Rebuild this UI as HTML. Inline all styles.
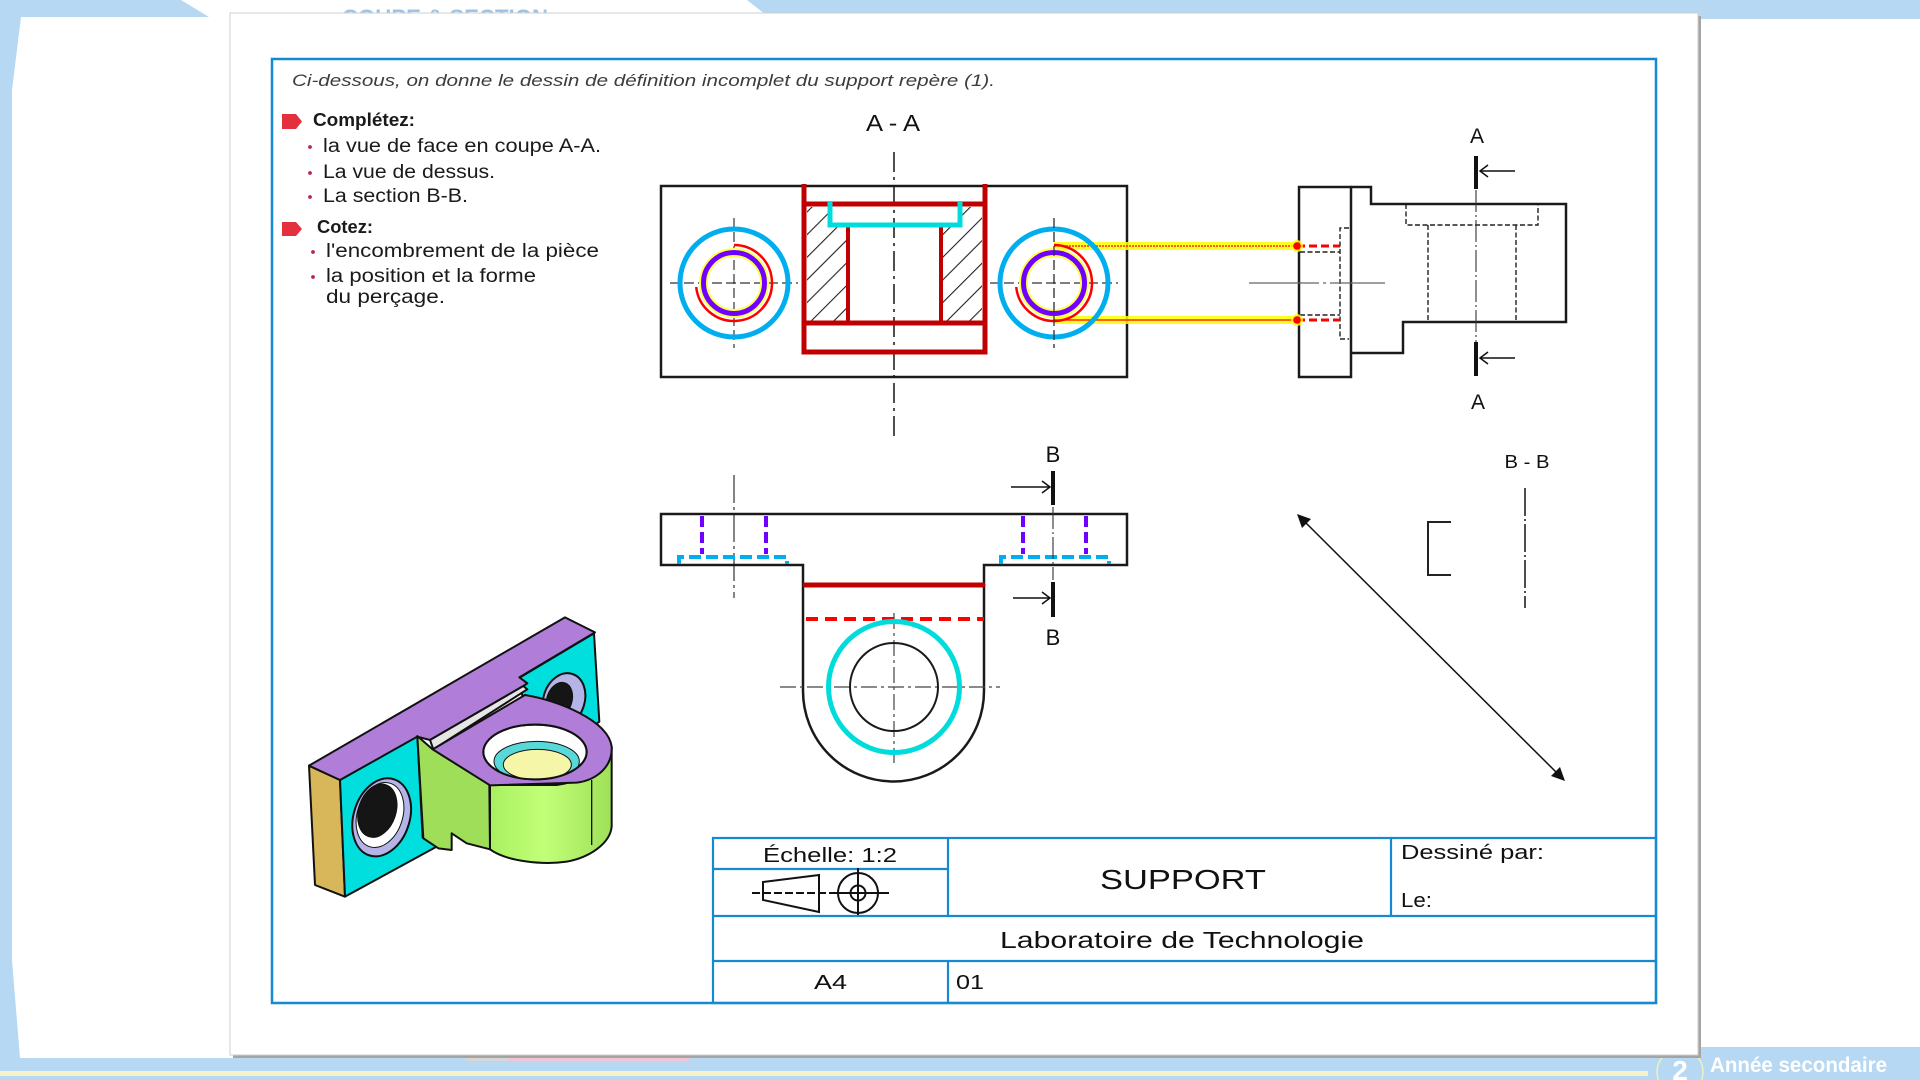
<!DOCTYPE html>
<html><head><meta charset="utf-8"><title>Support</title>
<style>
html,body{margin:0;padding:0;background:#fff;}
svg{display:block;}
text{font-family:"Liberation Sans",sans-serif;}
</style></head>
<body>
<svg width="1920" height="1080" viewBox="0 0 1920 1080" xmlns="http://www.w3.org/2000/svg">
<defs>
  <pattern id="hatch" patternUnits="userSpaceOnUse" width="16" height="16" patternTransform="rotate(45)">
    <line x1="0" y1="0" x2="0" y2="16" stroke="#222" stroke-width="2.2"/>
  </pattern>
  <clipPath id="bossHole"><ellipse cx="735" cy="456" rx="155" ry="82"/></clipPath>
  <linearGradient id="cyl" x1="0" y1="0" x2="1" y2="0">
    <stop offset="0" stop-color="#a8f060"/>
    <stop offset="0.45" stop-color="#c2ff78"/>
    <stop offset="1" stop-color="#9ee058"/>
  </linearGradient>
</defs>

<!-- background -->
<rect x="0" y="0" width="1920" height="1080" fill="#ffffff"/>
<polygon points="0,0 181,0 209,17 21,17 12,90 12,960 20,1058 0,1058" fill="#b6d8f2"/>
<polygon points="747,0 1920,0 1920,19 771,19" fill="#b6d8f2"/>
<rect x="0" y="1058" width="1920" height="22" fill="#b6d8f2"/>
<rect x="1657" y="1047" width="263" height="33" fill="#b6d8f2"/>
<rect x="0" y="1071" width="1648" height="5" fill="#f7f3c8"/>
<rect x="465" y="1057" width="45" height="4" fill="#d6d6d6"/>
<rect x="510" y="1057" width="180" height="4" fill="#f0c4d4"/>
<text x="342" y="25" font-size="22" font-weight="bold" fill="#9cc4e8" textLength="206" lengthAdjust="spacingAndGlyphs">COUPE &amp; SECTION</text>

<!-- bottom right badge -->
<circle cx="1680" cy="1072" r="23" fill="none" stroke="#f0eec0" stroke-width="1.5"/>
<text x="1680" y="1080" font-size="28" font-weight="bold" fill="#ffffff" text-anchor="middle">2</text>
<text x="1710" y="1072" font-size="21" font-weight="bold" fill="#ffffff" textLength="177" lengthAdjust="spacingAndGlyphs">Année secondaire</text>

<!-- page -->
<rect x="233" y="16" width="1468" height="1042" fill="#a4a4a4"/>
<rect x="230" y="13" width="1468" height="1042" fill="#ffffff" stroke="#cfcfcf" stroke-width="1"/>

<!-- blue frame -->
<rect x="272" y="59" width="1384" height="944" fill="none" stroke="#1589d1" stroke-width="2.5"/>

<!-- header text -->
<text x="292" y="86" font-size="17" font-style="italic" fill="#3c3c3c" textLength="703" lengthAdjust="spacingAndGlyphs">Ci-dessous, on donne  le dessin de définition incomplet du support   repère (1).</text>

<!-- instructions -->
<path d="M282,114 H296 L302,121.5 L296,129 H282 Z" fill="#e3303c"/>
<text x="313" y="126" font-size="18" font-weight="bold" fill="#1a1a1a" textLength="102" lengthAdjust="spacingAndGlyphs">Complétez:</text>
<circle cx="310" cy="147" r="1.9" fill="#c02060"/>
<text x="323" y="152" font-size="19" fill="#1a1a1a" textLength="278" lengthAdjust="spacingAndGlyphs">la vue de face en coupe A-A.</text>
<circle cx="310" cy="173" r="1.9" fill="#c02060"/>
<text x="323" y="178" font-size="19" fill="#1a1a1a" textLength="172" lengthAdjust="spacingAndGlyphs">La vue de dessus.</text>
<circle cx="310" cy="197" r="1.9" fill="#c02060"/>
<text x="323" y="202" font-size="19" fill="#1a1a1a" textLength="145" lengthAdjust="spacingAndGlyphs">La section B-B.</text>
<path d="M282,222 H296 L302,229 L296,236 H282 Z" fill="#e3303c"/>
<text x="317" y="233" font-size="18" font-weight="bold" fill="#1a1a1a" textLength="56" lengthAdjust="spacingAndGlyphs">Cotez:</text>
<circle cx="313" cy="252" r="1.9" fill="#c02060"/>
<text x="326" y="257" font-size="19" fill="#1a1a1a" textLength="273" lengthAdjust="spacingAndGlyphs">l'encombrement de la pièce</text>
<circle cx="313" cy="277" r="1.9" fill="#c02060"/>
<text x="326" y="282" font-size="19" fill="#1a1a1a" textLength="210" lengthAdjust="spacingAndGlyphs">la position et la forme</text>
<text x="326" y="303" font-size="19" fill="#1a1a1a" textLength="119" lengthAdjust="spacingAndGlyphs">du perçage.</text>

<!-- ========== FRONT VIEW (A-A) ========== -->
<text x="893" y="131" font-size="23" fill="#111" text-anchor="middle" textLength="54" lengthAdjust="spacingAndGlyphs">A - A</text>
<line x1="894" y1="152" x2="894" y2="440" stroke="#222" stroke-width="1.6" stroke-dasharray="20 5 3 5"/>
<rect x="661" y="186" width="466" height="191" fill="none" stroke="#1a1a1a" stroke-width="2.5"/>

<!-- hatching -->
<polygon points="807,207 830,207 830,226 848,226 848,321 807,321" fill="url(#hatch)"/>
<polygon points="941,226 958,226 958,207 982,207 982,321 941,321" fill="url(#hatch)"/>

<!-- red section outline -->
<g stroke="#c00000" fill="none">
  <line x1="804" y1="184" x2="804" y2="354" stroke-width="5"/>
  <line x1="985" y1="184" x2="985" y2="354" stroke-width="5"/>
  <line x1="804" y1="204" x2="985" y2="204" stroke-width="5"/>
  <line x1="804" y1="323" x2="985" y2="323" stroke-width="5"/>
  <line x1="801.5" y1="352" x2="987.5" y2="352" stroke-width="5"/>
  <line x1="848" y1="226" x2="848" y2="323" stroke-width="4"/>
  <line x1="941" y1="226" x2="941" y2="323" stroke-width="4"/>
</g>
<path d="M830,202 V225 H960 V202" fill="none" stroke="#00dcdc" stroke-width="5"/>

<!-- left hole circles -->
<g stroke-dasharray="10 4" stroke="#333" stroke-width="1.2">
  <line x1="670" y1="283" x2="798" y2="283"/>
  <line x1="734" y1="218" x2="734" y2="348"/>
  <line x1="990" y1="283" x2="1118" y2="283"/>
  <line x1="1054" y1="218" x2="1054" y2="348"/>
</g>
<circle cx="734" cy="283" r="54" fill="none" stroke="#00aeef" stroke-width="5"/>
<circle cx="734" cy="283" r="30.5" fill="none" stroke="#ffff50" stroke-width="9"/>
<circle cx="734" cy="283" r="30.5" fill="none" stroke="#7000ff" stroke-width="5"/>
<path d="M734,245 A38,38 0 1 1 696.2,287" fill="none" stroke="#ff0000" stroke-width="2.5"/>

<!-- right hole circles -->
<line x1="1054" y1="246" x2="1297" y2="246" stroke="#ffff00" stroke-width="8" opacity="0.85"/>
<line x1="1054" y1="320" x2="1297" y2="320" stroke="#ffff00" stroke-width="8" opacity="0.85"/>
<line x1="1054" y1="246" x2="1297" y2="246" stroke="#ff0000" stroke-width="1.2" stroke-dasharray="2 1"/>
<line x1="1054" y1="320" x2="1297" y2="320" stroke="#ff0000" stroke-width="1.2"/>
<circle cx="1054" cy="283" r="54" fill="none" stroke="#00aeef" stroke-width="5"/>
<circle cx="1054" cy="283" r="30.5" fill="none" stroke="#ffff50" stroke-width="9"/>
<circle cx="1054" cy="283" r="30.5" fill="none" stroke="#7000ff" stroke-width="5"/>
<path d="M1054,245 A38,38 0 1 1 1016.2,287" fill="none" stroke="#ff0000" stroke-width="2.5"/>
<line x1="1054" y1="218" x2="1054" y2="348" stroke="#333" stroke-width="1.2" stroke-dasharray="10 4"/>

<!-- ========== SIDE VIEW ========== -->
<rect x="1299" y="187" width="52" height="190" fill="none" stroke="#1a1a1a" stroke-width="2.5"/>
<path d="M1351,187 H1371 V204 H1566 V322 H1403 V353 H1351" fill="none" stroke="#1a1a1a" stroke-width="2.5"/>
<g fill="none" stroke="#222" stroke-width="1.4" stroke-dasharray="5 2.5">
  <path d="M1406,204 V225 H1538 V204"/>
  <line x1="1428" y1="225" x2="1428" y2="322"/>
  <line x1="1516" y1="225" x2="1516" y2="322"/>
  <path d="M1349,228 H1340 V339 H1349"/>
  <line x1="1300" y1="252" x2="1340" y2="252"/>
  <line x1="1300" y1="315" x2="1340" y2="315"/>
</g>
<line x1="1297" y1="246" x2="1340" y2="246" stroke="#ff0000" stroke-width="3" stroke-dasharray="8 4"/>
<line x1="1297" y1="320" x2="1340" y2="320" stroke="#ff0000" stroke-width="3" stroke-dasharray="8 4"/>
<circle cx="1297" cy="246" r="6" fill="#ffff00" opacity="0.8"/>
<circle cx="1297" cy="320" r="6" fill="#ffff00" opacity="0.8"/>
<circle cx="1297" cy="246" r="3.8" fill="#ff0000"/>
<circle cx="1297" cy="320" r="3.8" fill="#ff0000"/>
<line x1="1249" y1="283" x2="1385" y2="283" stroke="#666" stroke-width="1.2" stroke-dasharray="70 4 3 4"/>
<line x1="1476" y1="190" x2="1476" y2="342" stroke="#333" stroke-width="1.1" stroke-dasharray="22 3 2 3"/>
<!-- A marks -->
<line x1="1476" y1="156" x2="1476" y2="189" stroke="#111" stroke-width="4"/>
<line x1="1476" y1="342" x2="1476" y2="376" stroke="#111" stroke-width="4"/>
<line x1="1480" y1="171" x2="1515" y2="171" stroke="#111" stroke-width="1.5"/>
<path d="M1488,165 L1480,171 L1488,177" fill="none" stroke="#111" stroke-width="1.5"/>
<line x1="1480" y1="358" x2="1515" y2="358" stroke="#111" stroke-width="1.5"/>
<path d="M1488,352 L1480,358 L1488,364" fill="none" stroke="#111" stroke-width="1.5"/>
<text x="1477" y="143" font-size="21" fill="#111" text-anchor="middle">A</text>
<text x="1478" y="409" font-size="21" fill="#111" text-anchor="middle">A</text>

<!-- ========== TOP VIEW ========== -->
<line x1="734" y1="475" x2="734" y2="598" stroke="#333" stroke-width="1.2" stroke-dasharray="28 4 3 4"/>
<path d="M661,514 H1127 V565 H984 V691 A90.5,90.5 0 0 1 803,691 V565 H661 Z" fill="none" stroke="#1a1a1a" stroke-width="2.5"/>
<g stroke="#7000ff" stroke-width="4" stroke-dasharray="11 5">
  <line x1="702" y1="516" x2="702" y2="554"/>
  <line x1="766" y1="516" x2="766" y2="554"/>
  <line x1="1023" y1="516" x2="1023" y2="554"/>
  <line x1="1086" y1="516" x2="1086" y2="554"/>
</g>
<g fill="none" stroke="#00aeef" stroke-width="4">
  <path d="M679,564 V557 H787 V564" stroke-dasharray="12 5"/>
  <path d="M1001,564 V557 H1109 V564" stroke-dasharray="12 5"/>
</g>
<line x1="1053" y1="507" x2="1053" y2="580" stroke="#333" stroke-width="1.1" stroke-dasharray="22 3 2 3"/>
<line x1="805" y1="585" x2="983" y2="585" stroke="#c00000" stroke-width="5" stroke-linecap="round"/>
<line x1="806" y1="619" x2="984" y2="619" stroke="#ff0000" stroke-width="4" stroke-dasharray="12 7"/>
<g stroke="#444" stroke-width="1.2" stroke-dasharray="16 4 3 4">
  <line x1="780" y1="687" x2="1000" y2="687"/>
  <line x1="894" y1="613" x2="894" y2="763"/>
</g>
<circle cx="894" cy="687" r="44" fill="none" stroke="#1a1a1a" stroke-width="2"/>
<circle cx="894" cy="687" r="65.5" fill="none" stroke="#00dcdc" stroke-width="5"/>
<!-- B marks -->
<line x1="1053" y1="471" x2="1053" y2="505" stroke="#111" stroke-width="4"/>
<line x1="1053" y1="582" x2="1053" y2="617" stroke="#111" stroke-width="4"/>
<line x1="1011" y1="487" x2="1049" y2="487" stroke="#111" stroke-width="1.5"/>
<path d="M1042,481 L1050,487 L1042,493" fill="none" stroke="#111" stroke-width="1.5"/>
<line x1="1013" y1="598" x2="1049" y2="598" stroke="#111" stroke-width="1.5"/>
<path d="M1042,592 L1050,598 L1042,604" fill="none" stroke="#111" stroke-width="1.5"/>
<text x="1053" y="462" font-size="22" fill="#111" text-anchor="middle">B</text>
<text x="1053" y="645" font-size="22" fill="#111" text-anchor="middle">B</text>

<!-- ========== SECTION B-B ========== -->
<text x="1527" y="468" font-size="18" fill="#111" text-anchor="middle" textLength="45" lengthAdjust="spacingAndGlyphs">B - B</text>
<line x1="1525" y1="488" x2="1525" y2="608" stroke="#222" stroke-width="1.6" stroke-dasharray="28 3 2 3"/>
<path d="M1451,522 H1428 V575 H1451" fill="none" stroke="#222" stroke-width="2"/>
<line x1="1303" y1="520" x2="1559" y2="775" stroke="#111" stroke-width="1.5"/>
<polygon points="1297,514 1311,519 1302,528" fill="#111"/>
<polygon points="1565,781 1551,776 1560,767" fill="#111"/>

<!-- ========== 3D ISOMETRIC ========== -->
<g transform="translate(290,600) scale(0.33333)" stroke="#111" stroke-width="6" stroke-linejoin="round">
  <path d="M57,497 L150,540 L165,890 L75,855 Z" fill="#d8b65a"/>
  <path d="M150,540 L382,408 L398,712 L440,740 L165,890 Z" fill="#00dede"/>
  <ellipse cx="275" cy="652" rx="84" ry="120" transform="rotate(18 275 652)" fill="#b4b4e8"/>
  <ellipse cx="270" cy="645" rx="68" ry="100" transform="rotate(18 270 645)" fill="#ffffff" stroke-width="3"/>
  <ellipse cx="262" cy="632" rx="56" ry="82" transform="rotate(18 262 632)" fill="#151515" stroke-width="3"/>
  <path d="M685,235 L912,100 L928,365 L880,400 L700,300 Z" fill="#00dede"/>
  <ellipse cx="822" cy="300" rx="62" ry="82" transform="rotate(18 822 300)" fill="#b4b4e8"/>
  <ellipse cx="808" cy="300" rx="38" ry="54" transform="rotate(18 808 300)" fill="#151515" stroke-width="3"/>
  <path d="M57,497 L825,52 L915,97 L688,232 L712,250 L700,258 L420,420 L382,410 L150,540 Z" fill="#b07ed8"/>
  <path d="M420,420 L700,258 L712,268 L430,448 Z" fill="#e6e6e6"/>
  <path d="M382,408 L428,448 L600,555 L600,748 L530,730 L485,700 L485,750 L445,745 L400,715 Z" fill="#9ede58"/>
  <path d="M598,555 L600,748 C650,785 760,795 830,785 C900,772 960,730 965,680 L965,440 C950,500 900,540 800,555 Z" fill="url(#cyl)"/>
  <path d="M428,448 L705,285 C800,300 955,360 965,440 C968,500 920,540 860,548 L600,556 Z" fill="#b07ed8"/>
  <ellipse cx="735" cy="456" rx="155" ry="82" fill="#ffffff"/>
  <g clip-path="url(#bossHole)" stroke-width="3">
    <ellipse cx="740" cy="484" rx="128" ry="60" fill="#58d8d8"/>
    <ellipse cx="742" cy="494" rx="102" ry="46" fill="#f6f6a8"/>
  </g>
  <ellipse cx="735" cy="456" rx="155" ry="82" fill="none"/>
  <line x1="600" y1="555" x2="600" y2="748"/>
  <line x1="905" y1="540" x2="905" y2="735" stroke-width="4"/>
</g>

<!-- ========== TITLE BLOCK ========== -->
<g stroke="#1589d1" stroke-width="2.2" fill="none">
  <rect x="713" y="838" width="943" height="165"/>
  <line x1="713" y1="916" x2="1656" y2="916"/>
  <line x1="713" y1="961" x2="1656" y2="961"/>
  <line x1="948" y1="838" x2="948" y2="916"/>
  <line x1="1391" y1="838" x2="1391" y2="916"/>
  <line x1="713" y1="869" x2="948" y2="869"/>
  <line x1="948" y1="961" x2="948" y2="1003"/>
</g>
<g font-family="'Liberation Sans Narrow','Liberation Sans',sans-serif" fill="#111">
  <text x="763" y="862" font-size="20" textLength="134" lengthAdjust="spacingAndGlyphs">Échelle: 1:2</text>
  <text x="1100" y="889" font-size="28" textLength="166" lengthAdjust="spacingAndGlyphs">SUPPORT</text>
  <text x="1401" y="859" font-size="20" textLength="143" lengthAdjust="spacingAndGlyphs">Dessiné par:</text>
  <text x="1401" y="907" font-size="20" textLength="31" lengthAdjust="spacingAndGlyphs">Le:</text>
  <text x="1000" y="948" font-size="23" textLength="364" lengthAdjust="spacingAndGlyphs">Laboratoire de Technologie</text>
  <text x="814" y="989" font-size="20" textLength="33" lengthAdjust="spacingAndGlyphs">A4</text>
  <text x="956" y="989" font-size="20" textLength="28" lengthAdjust="spacingAndGlyphs">01</text>
</g>
<!-- projection symbol -->
<g stroke="#111" stroke-width="2" fill="none">
  <path d="M763,882 L819,875 L819,912 L763,900 Z"/>
  <line x1="752" y1="893" x2="830" y2="893" stroke-dasharray="8 3"/>
  <circle cx="858" cy="893" r="20"/>
  <circle cx="858" cy="893" r="7.5"/>
  <line x1="830" y1="893" x2="889" y2="893"/>
  <line x1="858" y1="868" x2="858" y2="915"/>
</g>
</svg>
</body></html>
